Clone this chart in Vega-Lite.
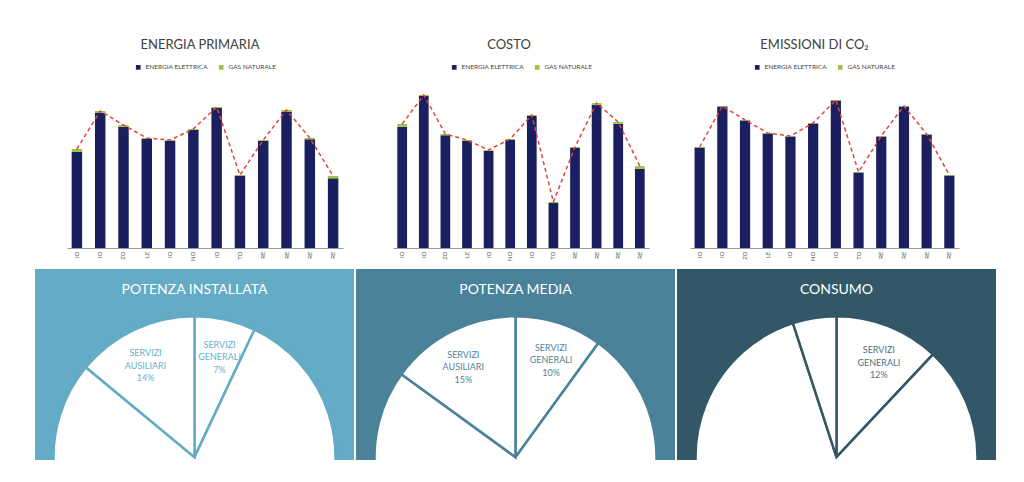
{
  "$schema": "https://vega.github.io/schema/vega-lite/v6.json",
  "padding": {"left": 35, "top": 39, "right": 0, "bottom": 0},
  "autosize": {"type": "pad"},
  "background": "white",
  "config": {
    "view": {"stroke": null},
    "font": "Lato",
    "legend": {"layout": {"top": {"anchor": "middle"}}}
  },
  "resolve": {"scale": {"color": "independent", "theta": "independent"}, "legend": {"color": "independent"}},
  "datasets": {
    "energia": [
      {"month": "GENNAIO", "n": 1, "series": "ENERGIA ELETTRICA", "value": 96}, {"month": "GENNAIO", "n": 1, "series": "GAS NATURALE", "value": 3},
      {"month": "FEBBRAIO", "n": 2, "series": "ENERGIA ELETTRICA", "value": 135.3}, {"month": "FEBBRAIO", "n": 2, "series": "GAS NATURALE", "value": 1.7},
      {"month": "MARZO", "n": 3, "series": "ENERGIA ELETTRICA", "value": 121.3}, {"month": "MARZO", "n": 3, "series": "GAS NATURALE", "value": 1.7},
      {"month": "APRILE", "n": 4, "series": "ENERGIA ELETTRICA", "value": 109}, {"month": "APRILE", "n": 4, "series": "GAS NATURALE", "value": 1},
      {"month": "MAGGIO", "n": 5, "series": "ENERGIA ELETTRICA", "value": 107.3}, {"month": "MAGGIO", "n": 5, "series": "GAS NATURALE", "value": 0.7},
      {"month": "GIUGNO", "n": 6, "series": "ENERGIA ELETTRICA", "value": 118.3}, {"month": "GIUGNO", "n": 6, "series": "GAS NATURALE", "value": 0.7},
      {"month": "LUGLIO", "n": 7, "series": "ENERGIA ELETTRICA", "value": 140.3}, {"month": "LUGLIO", "n": 7, "series": "GAS NATURALE", "value": 0.7},
      {"month": "AGOSTO", "n": 8, "series": "ENERGIA ELETTRICA", "value": 72.3}, {"month": "AGOSTO", "n": 8, "series": "GAS NATURALE", "value": 0.7},
      {"month": "SETTEMBRE", "n": 9, "series": "ENERGIA ELETTRICA", "value": 107.3}, {"month": "SETTEMBRE", "n": 9, "series": "GAS NATURALE", "value": 0.7},
      {"month": "OTTOBRE", "n": 10, "series": "ENERGIA ELETTRICA", "value": 136}, {"month": "OTTOBRE", "n": 10, "series": "GAS NATURALE", "value": 2},
      {"month": "NOVEMBRE", "n": 11, "series": "ENERGIA ELETTRICA", "value": 108.7}, {"month": "NOVEMBRE", "n": 11, "series": "GAS NATURALE", "value": 1.3},
      {"month": "DICEMBRE", "n": 12, "series": "ENERGIA ELETTRICA", "value": 69.7}, {"month": "DICEMBRE", "n": 12, "series": "GAS NATURALE", "value": 2.3}
    ],
    "costo": [
      {"month": "GENNAIO", "n": 1, "series": "ENERGIA ELETTRICA", "value": 121.3}, {"month": "GENNAIO", "n": 1, "series": "GAS NATURALE", "value": 2.7},
      {"month": "FEBBRAIO", "n": 2, "series": "ENERGIA ELETTRICA", "value": 152}, {"month": "FEBBRAIO", "n": 2, "series": "GAS NATURALE", "value": 1},
      {"month": "MARZO", "n": 3, "series": "ENERGIA ELETTRICA", "value": 112.7}, {"month": "MARZO", "n": 3, "series": "GAS NATURALE", "value": 1.3},
      {"month": "APRILE", "n": 4, "series": "ENERGIA ELETTRICA", "value": 107}, {"month": "APRILE", "n": 4, "series": "GAS NATURALE", "value": 1},
      {"month": "MAGGIO", "n": 5, "series": "ENERGIA ELETTRICA", "value": 97.3}, {"month": "MAGGIO", "n": 5, "series": "GAS NATURALE", "value": 0.7},
      {"month": "GIUGNO", "n": 6, "series": "ENERGIA ELETTRICA", "value": 108}, {"month": "GIUGNO", "n": 6, "series": "GAS NATURALE", "value": 1},
      {"month": "LUGLIO", "n": 7, "series": "ENERGIA ELETTRICA", "value": 132}, {"month": "LUGLIO", "n": 7, "series": "GAS NATURALE", "value": 1},
      {"month": "AGOSTO", "n": 8, "series": "ENERGIA ELETTRICA", "value": 45}, {"month": "AGOSTO", "n": 8, "series": "GAS NATURALE", "value": 1},
      {"month": "SETTEMBRE", "n": 9, "series": "ENERGIA ELETTRICA", "value": 100}, {"month": "SETTEMBRE", "n": 9, "series": "GAS NATURALE", "value": 1},
      {"month": "OTTOBRE", "n": 10, "series": "ENERGIA ELETTRICA", "value": 143.3}, {"month": "OTTOBRE", "n": 10, "series": "GAS NATURALE", "value": 1.7},
      {"month": "NOVEMBRE", "n": 11, "series": "ENERGIA ELETTRICA", "value": 124.3}, {"month": "NOVEMBRE", "n": 11, "series": "GAS NATURALE", "value": 1.7},
      {"month": "DICEMBRE", "n": 12, "series": "ENERGIA ELETTRICA", "value": 79.3}, {"month": "DICEMBRE", "n": 12, "series": "GAS NATURALE", "value": 2.7}
    ],
    "emissioni": [
      {"month": "GENNAIO", "n": 1, "series": "ENERGIA ELETTRICA", "value": 100.5}, {"month": "GENNAIO", "n": 1, "series": "GAS NATURALE", "value": 0.5},
      {"month": "FEBBRAIO", "n": 2, "series": "ENERGIA ELETTRICA", "value": 141.5}, {"month": "FEBBRAIO", "n": 2, "series": "GAS NATURALE", "value": 0.5},
      {"month": "MARZO", "n": 3, "series": "ENERGIA ELETTRICA", "value": 127.5}, {"month": "MARZO", "n": 3, "series": "GAS NATURALE", "value": 0.5},
      {"month": "APRILE", "n": 4, "series": "ENERGIA ELETTRICA", "value": 114.5}, {"month": "APRILE", "n": 4, "series": "GAS NATURALE", "value": 0.5},
      {"month": "MAGGIO", "n": 5, "series": "ENERGIA ELETTRICA", "value": 111.5}, {"month": "MAGGIO", "n": 5, "series": "GAS NATURALE", "value": 0.5},
      {"month": "GIUGNO", "n": 6, "series": "ENERGIA ELETTRICA", "value": 124.5}, {"month": "GIUGNO", "n": 6, "series": "GAS NATURALE", "value": 0.5},
      {"month": "LUGLIO", "n": 7, "series": "ENERGIA ELETTRICA", "value": 147.5}, {"month": "LUGLIO", "n": 7, "series": "GAS NATURALE", "value": 0.5},
      {"month": "AGOSTO", "n": 8, "series": "ENERGIA ELETTRICA", "value": 75.5}, {"month": "AGOSTO", "n": 8, "series": "GAS NATURALE", "value": 0.5},
      {"month": "SETTEMBRE", "n": 9, "series": "ENERGIA ELETTRICA", "value": 111.5}, {"month": "SETTEMBRE", "n": 9, "series": "GAS NATURALE", "value": 0.5},
      {"month": "OTTOBRE", "n": 10, "series": "ENERGIA ELETTRICA", "value": 141.5}, {"month": "OTTOBRE", "n": 10, "series": "GAS NATURALE", "value": 0.5},
      {"month": "NOVEMBRE", "n": 11, "series": "ENERGIA ELETTRICA", "value": 113.5}, {"month": "NOVEMBRE", "n": 11, "series": "GAS NATURALE", "value": 0.5},
      {"month": "DICEMBRE", "n": 12, "series": "ENERGIA ELETTRICA", "value": 72.5}, {"month": "DICEMBRE", "n": 12, "series": "GAS NATURALE", "value": 0.5}
    ],
    "installata": [
      {"segment": "SERVIZI GENERALI", "ord": 1, "value": 7, "label": "SERVIZI\nGENERALI\n7%"},
      {"segment": "ALTRO", "ord": 2, "value": 79, "label": ""},
      {"segment": "SERVIZI AUSILIARI", "ord": 3, "value": 14, "label": "SERVIZI\nAUSILIARI\n14%"}
    ],
    "media": [
      {"segment": "SERVIZI GENERALI", "ord": 1, "value": 10, "label": "SERVIZI\nGENERALI\n10%"},
      {"segment": "ALTRO", "ord": 2, "value": 75, "label": ""},
      {"segment": "SERVIZI AUSILIARI", "ord": 3, "value": 15, "label": "SERVIZI\nAUSILIARI\n15%"}
    ],
    "consumo": [
      {"segment": "SERVIZI GENERALI", "ord": 1, "value": 12, "label": "SERVIZI\nGENERALI\n12%"},
      {"segment": "ALTRO", "ord": 2, "value": 83, "label": ""},
      {"segment": "SERVIZI AUSILIARI", "ord": 3, "value": 5, "label": ""}
    ]
  },
  "spacing": 8,
  "vconcat": [
    {
      "spacing": 13,
      "resolve": {"scale": {"color": "independent"}, "legend": {"color": "independent"}},
      "hconcat": [
        {
          "width": 1, "height": 10,
          "data": {"values": []},
          "mark": {"type": "point", "opacity": 0},
          "encoding": {}
        },
        {
          "width": 276, "height": 158,
          "title": {"text": "ENERGIA PRIMARIA", "fontSize": 13, "fontWeight": "normal", "color": "#404040", "offset": 12, "frame": "group", "dx": -5},
          "data": {"name": "energia"},
          "encoding": {
            "x": {"field": "month", "type": "nominal", "sort": null, "scale": {"paddingInner": 0.55, "paddingOuter": 0.2},
                  "axis": {"title": null, "labelAngle": -90, "labelExpr": "slice(datum.label, -2)", "ticks": false, "domainColor": "#9a9a9a", "labelFontSize": 6, "labelColor": "#555555", "labelPadding": 3}}
          },
          "layer": [
            {
              "mark": {"type": "bar"},
              "encoding": {
                "y": {"field": "value", "type": "quantitative", "stack": true, "scale": {"domain": [0, 158], "nice": false},
                      "axis": {"labels": false, "ticks": false, "domain": false, "grid": false, "title": null, "minExtent": 18, "maxExtent": 18}},
                "color": {"field": "series", "type": "nominal", "scale": {"domain": ["ENERGIA ELETTRICA", "GAS NATURALE"], "range": ["#1a1f60", "#9bc53d"]},
                          "legend": {"orient": "top", "direction": "horizontal", "title": null, "symbolType": "square", "symbolSize": 22, "labelFontSize": 6.5, "labelColor": "#444444", "columnPadding": 10, "offset": 19, "symbolStrokeWidth": 0}},
                "order": {"field": "series", "type": "nominal", "sort": "ascending"}
              }
            },
            {
              "mark": {"type": "line", "color": "#e0463e", "strokeDash": [4, 3], "strokeWidth": 1.5},
              "encoding": {
                "y": {"field": "value", "type": "quantitative", "aggregate": "sum"},
                "order": {"field": "n", "type": "quantitative"}
              }
            }
          ]
        },
        {
          "width": 256, "height": 158,
          "title": {"text": "COSTO", "fontSize": 13, "fontWeight": "normal", "color": "#404040", "offset": 12, "frame": "group", "dx": -12},
          "data": {"name": "costo"},
          "encoding": {
            "x": {"field": "month", "type": "nominal", "sort": null, "scale": {"paddingInner": 0.55, "paddingOuter": 0.2},
                  "axis": {"title": null, "labelAngle": -90, "labelExpr": "slice(datum.label, -2)", "ticks": false, "domainColor": "#9a9a9a", "labelFontSize": 6, "labelColor": "#555555", "labelPadding": 3}}
          },
          "layer": [
            {
              "mark": {"type": "bar"},
              "encoding": {
                "y": {"field": "value", "type": "quantitative", "stack": true, "scale": {"domain": [0, 158], "nice": false},
                      "axis": {"labels": false, "ticks": false, "domain": false, "grid": false, "title": null, "minExtent": 37, "maxExtent": 37}},
                "color": {"field": "series", "type": "nominal", "scale": {"domain": ["ENERGIA ELETTRICA", "GAS NATURALE"], "range": ["#1a1f60", "#9bc53d"]},
                          "legend": {"orient": "top", "direction": "horizontal", "title": null, "symbolType": "square", "symbolSize": 22, "labelFontSize": 6.5, "labelColor": "#444444", "columnPadding": 10, "offset": 19, "symbolStrokeWidth": 0}},
                "order": {"field": "series", "type": "nominal", "sort": "ascending"}
              }
            },
            {
              "mark": {"type": "line", "color": "#e0463e", "strokeDash": [4, 3], "strokeWidth": 1.5},
              "encoding": {
                "y": {"field": "value", "type": "quantitative", "aggregate": "sum"},
                "order": {"field": "n", "type": "quantitative"}
              }
            }
          ]
        },
        {
          "width": 269, "height": 158,
          "title": {"text": "EMISSIONI DI CO₂", "fontSize": 13, "fontWeight": "normal", "color": "#404040", "offset": 12, "frame": "group", "dx": -10},
          "data": {"name": "emissioni"},
          "encoding": {
            "x": {"field": "month", "type": "nominal", "sort": null, "scale": {"paddingInner": 0.55, "paddingOuter": 0.2},
                  "axis": {"title": null, "labelAngle": -90, "labelExpr": "slice(datum.label, -2)", "ticks": false, "domainColor": "#9a9a9a", "labelFontSize": 6, "labelColor": "#555555", "labelPadding": 3}}
          },
          "layer": [
            {
              "mark": {"type": "bar"},
              "encoding": {
                "y": {"field": "value", "type": "quantitative", "stack": true, "scale": {"domain": [0, 158], "nice": false},
                      "axis": {"labels": false, "ticks": false, "domain": false, "grid": false, "title": null, "minExtent": 28, "maxExtent": 28}},
                "color": {"field": "series", "type": "nominal", "scale": {"domain": ["ENERGIA ELETTRICA", "GAS NATURALE"], "range": ["#1a1f60", "#9bc53d"]},
                          "legend": {"orient": "top", "direction": "horizontal", "title": null, "symbolType": "square", "symbolSize": 22, "labelFontSize": 6.5, "labelColor": "#444444", "columnPadding": 10, "offset": 19, "symbolStrokeWidth": 0}},
                "order": {"field": "series", "type": "nominal", "sort": "ascending"}
              }
            },
            {
              "mark": {"type": "line", "color": "#e0463e", "strokeDash": [4, 3], "strokeWidth": 1.5},
              "encoding": {
                "y": {"field": "value", "type": "quantitative", "aggregate": "sum"},
                "order": {"field": "n", "type": "quantitative"}
              }
            }
          ]
        }
      ]
    },
    {
      "spacing": 2,
      "resolve": {"scale": {"theta": "independent"}},
      "hconcat": [
        {
          "width": 319, "height": 191,
          "view": {"fill": "#64abc6", "stroke": null},
          "data": {"name": "installata"},
          "layer": [
            {
              "mark": {"type": "arc", "radius": 141, "fill": "white", "stroke": "#64abc6", "strokeWidth": 2.5, "clip": true},
              "encoding": {
                "theta": {"field": "value", "type": "quantitative", "stack": true},
                "order": {"field": "ord", "type": "quantitative"},
                "x": {"datum": 0.5, "type": "quantitative", "scale": {"domain": [0, 1]}, "axis": null},
                "y": {"datum": 0.015, "type": "quantitative", "scale": {"domain": [0, 1]}, "axis": null}
              }
            },
            {
              "mark": {"type": "text", "radius": 115, "lineBreak": "\n", "fontSize": 9, "lineHeight": 12.5, "color": "#6aafc9"},
              "encoding": {
                "theta": {"field": "value", "type": "quantitative", "stack": true},
                "order": {"field": "ord", "type": "quantitative"},
                "x": {"datum": 0.5, "type": "quantitative"},
                "y": {"datum": 0.015, "type": "quantitative"},
                "text": {"field": "label"}
              }
            },
            {
              "data": {"values": [{"t": "POTENZA INSTALLATA"}]},
              "mark": {"type": "text", "fontSize": 14, "color": "white"},
              "encoding": {
                "x": {"datum": 0.5, "type": "quantitative"},
                "y": {"datum": 0.89, "type": "quantitative"},
                "text": {"field": "t"}
              }
            }
          ]
        },
        {
          "width": 319, "height": 191,
          "view": {"fill": "#4a8299", "stroke": null},
          "data": {"name": "media"},
          "layer": [
            {
              "mark": {"type": "arc", "radius": 141, "fill": "white", "stroke": "#4a8299", "strokeWidth": 2.5, "clip": true},
              "encoding": {
                "theta": {"field": "value", "type": "quantitative", "stack": true},
                "order": {"field": "ord", "type": "quantitative"},
                "x": {"datum": 0.5, "type": "quantitative", "scale": {"domain": [0, 1]}, "axis": null},
                "y": {"datum": 0.015, "type": "quantitative", "scale": {"domain": [0, 1]}, "axis": null}
              }
            },
            {
              "mark": {"type": "text", "radius": 115, "lineBreak": "\n", "fontSize": 9, "lineHeight": 12.5, "color": "#4f8499"},
              "encoding": {
                "theta": {"field": "value", "type": "quantitative", "stack": true},
                "order": {"field": "ord", "type": "quantitative"},
                "x": {"datum": 0.5, "type": "quantitative"},
                "y": {"datum": 0.015, "type": "quantitative"},
                "text": {"field": "label"}
              }
            },
            {
              "data": {"values": [{"t": "POTENZA MEDIA"}]},
              "mark": {"type": "text", "fontSize": 14, "color": "white"},
              "encoding": {
                "x": {"datum": 0.5, "type": "quantitative"},
                "y": {"datum": 0.89, "type": "quantitative"},
                "text": {"field": "t"}
              }
            }
          ]
        },
        {
          "width": 319, "height": 191,
          "view": {"fill": "#325868", "stroke": null},
          "data": {"name": "consumo"},
          "layer": [
            {
              "mark": {"type": "arc", "radius": 141, "fill": "white", "stroke": "#325868", "strokeWidth": 2.5, "clip": true},
              "encoding": {
                "theta": {"field": "value", "type": "quantitative", "stack": true},
                "order": {"field": "ord", "type": "quantitative"},
                "x": {"datum": 0.5, "type": "quantitative", "scale": {"domain": [0, 1]}, "axis": null},
                "y": {"datum": 0.015, "type": "quantitative", "scale": {"domain": [0, 1]}, "axis": null}
              }
            },
            {
              "mark": {"type": "text", "radius": 115, "lineBreak": "\n", "fontSize": 9, "lineHeight": 12.5, "color": "#56707c"},
              "encoding": {
                "theta": {"field": "value", "type": "quantitative", "stack": true},
                "order": {"field": "ord", "type": "quantitative"},
                "x": {"datum": 0.5, "type": "quantitative"},
                "y": {"datum": 0.015, "type": "quantitative"},
                "text": {"field": "label"}
              }
            },
            {
              "data": {"values": [{"t": "CONSUMO"}]},
              "mark": {"type": "text", "fontSize": 14, "color": "white"},
              "encoding": {
                "x": {"datum": 0.5, "type": "quantitative"},
                "y": {"datum": 0.89, "type": "quantitative"},
                "text": {"field": "t"}
              }
            }
          ]
        }
      ]
    }
  ]
}
